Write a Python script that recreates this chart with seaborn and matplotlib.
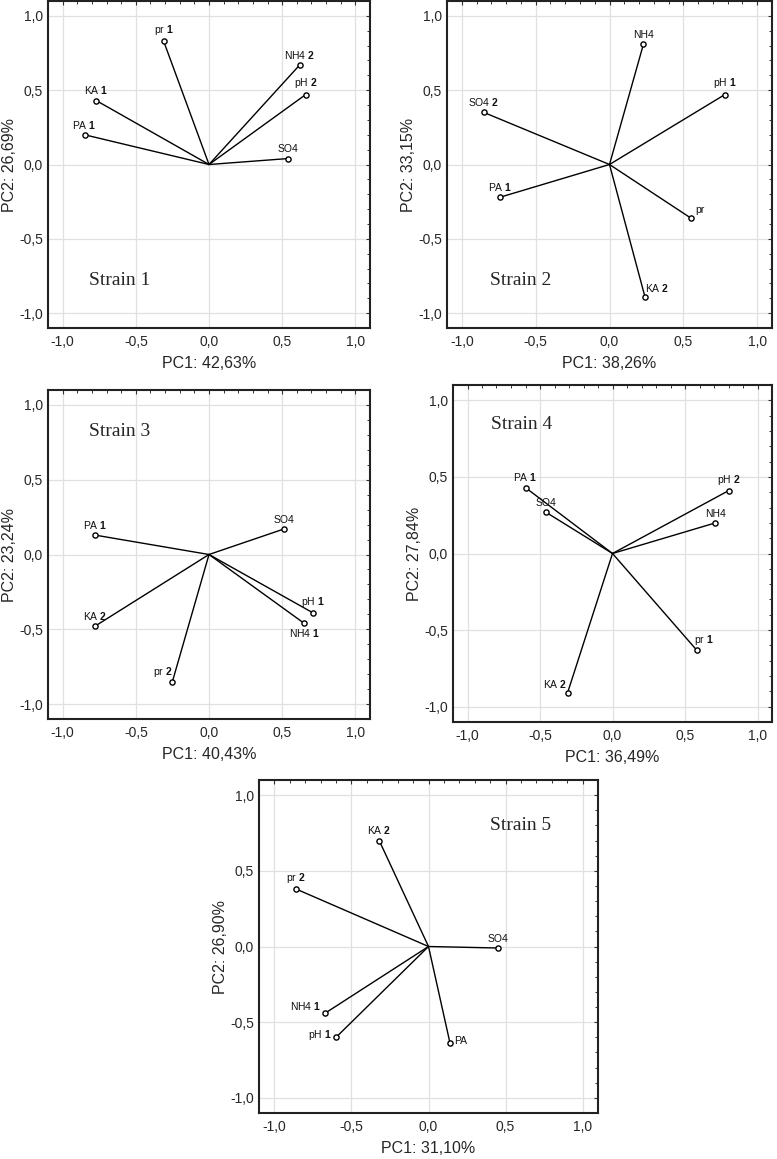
import matplotlib
matplotlib.use("Agg")
import matplotlib.pyplot as plt
import seaborn as sns
import pandas as pd
from matplotlib.ticker import MultipleLocator, FuncFormatter

sns.set_style("white")
plt.rcParams['font.family'] = ['Liberation Sans', 'DejaVu Sans']
plt.rcParams['mathtext.fontset'] = 'custom'
plt.rcParams['mathtext.rm'] = 'Liberation Sans'
plt.rcParams['mathtext.bf'] = 'Liberation Sans:bold'

# PCA loadings
strain_names = ['Strain 1', 'Strain 2', 'Strain 3', 'Strain 4', 'Strain 5']
pc1_labels = ['PC1: 42,63%', 'PC1: 38,26%', 'PC1: 40,43%', 'PC1: 36,49%', 'PC1: 31,10%']
pc2_labels = ['PC2: 26,69%', 'PC2: 33,15%', 'PC2: 23,24%', 'PC2: 27,84%', 'PC2: 26,90%']

s1_vars = ['pr 1', 'NH4 2', 'pH 2', 'KA 1', 'PA 1', 'SO4']
s1_pc1 = [-0.31, 0.62, 0.66, -0.77, -0.85, 0.54]
s1_pc2 = [0.83, 0.67, 0.47, 0.43, 0.20, 0.04]

s2_vars = ['NH4', 'pH 1', 'SO4 2', 'PA 1', 'pr', 'KA 2']
s2_pc1 = [0.23, 0.78, -0.85, -0.74, 0.55, 0.24]
s2_pc2 = [0.81, 0.47, 0.35, -0.22, -0.36, -0.89]

s3_vars = ['PA 1', 'SO4', 'pH 1', 'NH4 1', 'KA 2', 'pr 2']
s3_pc1 = [-0.78, 0.51, 0.71, 0.65, -0.78, -0.25]
s3_pc2 = [0.13, 0.17, -0.39, -0.46, -0.48, -0.85]

s4_vars = ['PA 1', 'SO4', 'pH 2', 'NH4', 'pr 1', 'KA 2']
s4_pc1 = [-0.60, -0.46, 0.80, 0.71, 0.58, -0.31]
s4_pc2 = [0.43, 0.27, 0.41, 0.20, -0.63, -0.91]

s5_vars = ['KA 2', 'pr 2', 'SO4', 'NH4 1', 'pH 1', 'PA']
s5_pc1 = [-0.32, -0.86, 0.45, -0.67, -0.60, 0.14]
s5_pc2 = [0.70, 0.38, -0.01, -0.44, -0.60, -0.64]

all_vars = [s1_vars, s2_vars, s3_vars, s4_vars, s5_vars]
all_pc1 = [s1_pc1, s2_pc1, s3_pc1, s4_pc1, s5_pc1]
all_pc2 = [s1_pc2, s2_pc2, s3_pc2, s4_pc2, s5_pc2]

# label placement (style only): (dx, dy in points, ha, va)
default_place = (0, 3, 'center', 'bottom')
special_place = {
    (1, 'pr'): (3, 2, 'left', 'bottom'),
    (1, 'KA 2'): (0, 2, 'left', 'bottom'),
    (2, 'NH4 1'): (0, -3, 'center', 'top'),
    (2, 'pr 2'): (0, 2, 'right', 'bottom'),
    (3, 'pr 1'): (-2, 2, 'left', 'bottom'),
    (3, 'KA 2'): (0, 2, 'right', 'bottom'),
    (4, 'NH4 1'): (-3, 5, 'right', 'center'),
    (4, 'pH 1'): (-3, 2, 'right', 'center'),
    (4, 'PA'): (3, 2, 'left', 'center'),
}
# strain title positions in data coords
title_pos = [(-0.82, -0.81), (-0.81, -0.81), (-0.82, 0.79), (-0.84, 0.81), (0.40, 0.77)]

W, H = 777, 1159
# axes boxes in pixels: left, top, right, bottom
boxes = [(48, 1, 370, 328), (447, 1, 772, 328),
         (48, 390, 370, 719), (453, 385, 772, 722),
         (259, 780, 598, 1113)]

fig = plt.figure(figsize=(W / 100, H / 100), dpi=100)


def fmt(v, pos):
    s = f"{v:.1f}".replace('.', ',')
    return '0,0' if s == '-0,0' else s


def bold_num(name):
    parts = name.split(' ')
    if len(parts) == 2:
        return parts[0] + ' $\\mathbf{' + parts[1] + '}$'
    return name


for i in range(5):
    l, t, r, b = boxes[i]
    ax = fig.add_axes([l / W, 1 - b / H, (r - l) / W, (b - t) / H])
    df = pd.DataFrame({'var': all_vars[i], 'pc1': all_pc1[i], 'pc2': all_pc2[i]})

    for _, row in df.iterrows():
        ax.plot([0, row['pc1']], [0, row['pc2']], color='black', lw=1.0, zorder=2)
    sns.scatterplot(data=df, x='pc1', y='pc2', ax=ax, s=14, facecolor='white',
                    edgecolor='black', linewidth=1.0, zorder=3, legend=False)

    for _, row in df.iterrows():
        dx, dy, ha, va = special_place.get((i, row['var']), default_place)
        ax.annotate(bold_num(row['var']), (row['pc1'], row['pc2']),
                    xytext=(dx, dy), textcoords='offset points',
                    ha=ha, va=va, fontsize=7.5, color='#111111')

    tx, ty = title_pos[i]
    ax.text(tx, ty, strain_names[i], fontsize=14, family='Liberation Serif',
            ha='left', va='baseline')

    ax.set_xlim(-1.1, 1.1)
    ax.set_ylim(-1.1, 1.1)
    ax.xaxis.set_major_locator(MultipleLocator(0.5))
    ax.yaxis.set_major_locator(MultipleLocator(0.5))
    ax.xaxis.set_minor_locator(MultipleLocator(0.1))
    ax.yaxis.set_minor_locator(MultipleLocator(0.1))
    ax.xaxis.set_major_formatter(FuncFormatter(fmt))
    ax.yaxis.set_major_formatter(FuncFormatter(fmt))
    ax.grid(True, which='major', color='#e0e0e0', lw=0.9, zorder=0)
    ax.set_axisbelow(True)
    ax.tick_params(which='both', direction='in', top=True, right=True, color='#333333')
    ax.tick_params(which='major', length=3, width=0.8, labelsize=10)
    ax.tick_params(axis='x', which='major', pad=5)
    ax.tick_params(axis='y', which='major', pad=3.5)
    ax.tick_params(which='minor', length=2, width=0.7)
    for sp in ax.spines.values():
        sp.set_linewidth(1.5)
        sp.set_color('#222222')
    ax.set_xlabel(pc1_labels[i], fontsize=11.5, labelpad=5)
    ax.set_ylabel(pc2_labels[i], fontsize=11.5, labelpad=1.5)

fig.savefig('out.png', dpi=100)
